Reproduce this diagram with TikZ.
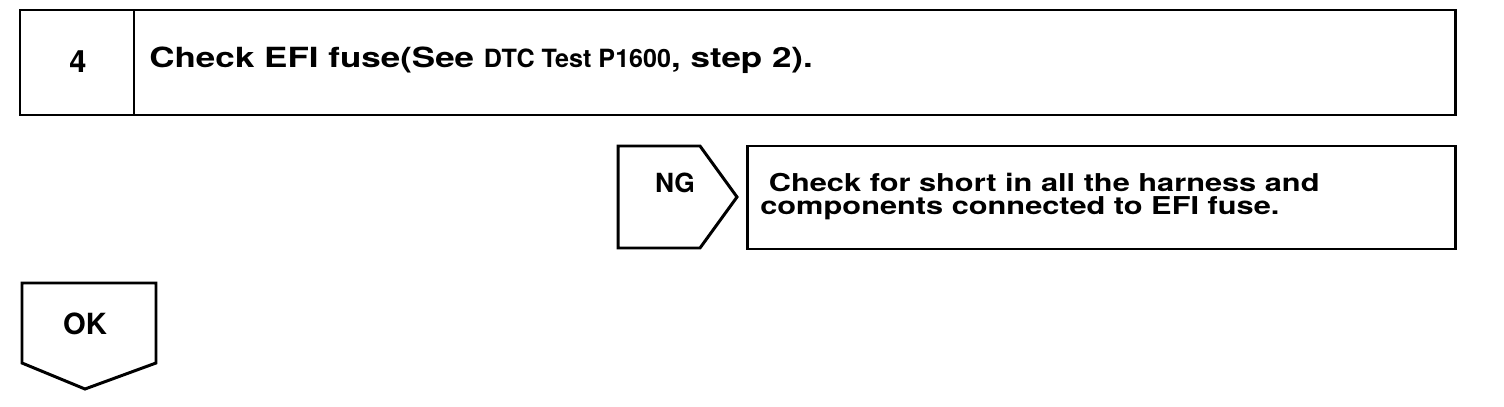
\documentclass[tikz,border=0pt]{standalone}
\usepackage{fontspec}
\setmainfont{TeX Gyre Heros}
\newfontfamily\widefont[FakeStretch=1.26]{TeX Gyre Heros}
\newfontfamily\actfont[FakeStretch=1.25]{TeX Gyre Heros}
\begin{document}
\begin{tikzpicture}[x=0.02cm,y=-0.02cm,
  box/.style={draw=black,line width=1.7pt,line join=miter},
  lbl/.style={inner sep=0pt}]
\useasboundingbox (0,0) rectangle (1504,406);
% top box
\draw[box] (20,10) rectangle (1455,115);
\draw[box] (134,10) -- (134,115);
\node[lbl,anchor=base,font=\bfseries\fontsize{17.5}{20}\selectfont] (num) at (78,72) {4};
\node[lbl,anchor=base west,font=\widefont\bfseries\fontsize{15.8}{19}\selectfont] (title) at (149,67)
  {Check EFI fuse(See {\normalfont\bfseries\fontsize{14.3}{17}\selectfont DTC Test P1600}, step 2).};
% NG pentagon
\draw[box] (618,146) -- (700,146) -- (737,197) -- (700,248) -- (618,248) -- cycle;
\node[lbl,anchor=base,font=\bfseries\fontsize{15}{18}\selectfont] (ng) at (675,192) {NG};
% action box
\draw[box] (747,146) rectangle (1455,249);
\node[lbl,anchor=north west,align=left,font=\actfont\bfseries\fontsize{14}{12.8}\selectfont] (act) at (760,173)
  {\ Check for short in all the harness and\\components connected to EFI fuse.};
% OK shape
\draw[box] (22,283) -- (156,283) -- (156,363) -- (85,389) -- (22,363) -- cycle;
\node[lbl,anchor=base,font=\bfseries\fontsize{16.6}{19}\selectfont] (ok) at (85,334) {OK};
\end{tikzpicture}
\end{document}
